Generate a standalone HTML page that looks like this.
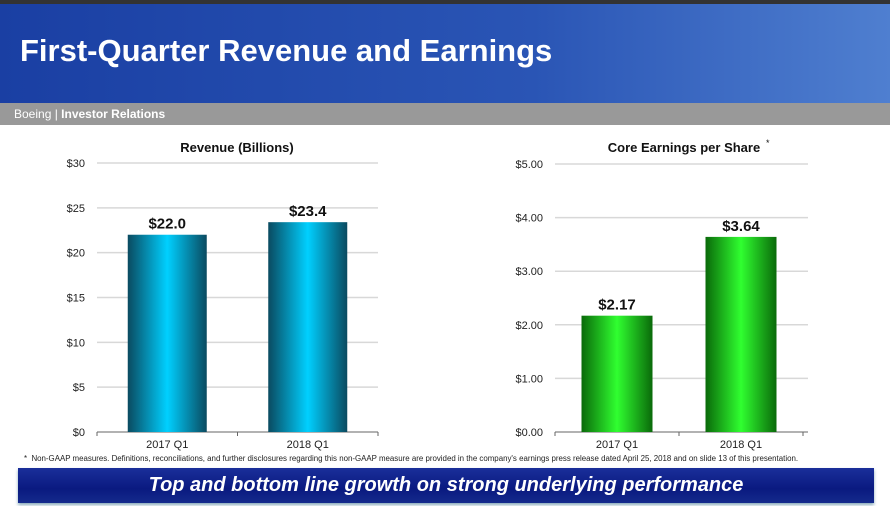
<!DOCTYPE html>
<html><head><meta charset="utf-8"><style>
body{margin:0;width:890px;height:506px;overflow:hidden;background:#fff;font-family:"Liberation Sans",sans-serif;position:relative}
#hdr{position:absolute;left:0;top:0;width:890px;height:103px;background:linear-gradient(90deg,#1a3fa3 0%,#2a55b5 60%,#4f7fd0 100%);border-top:4px solid #333;box-sizing:border-box}
#hdr h1{margin:0;position:absolute;left:20px;top:29px;color:#fff;font-size:31px;font-weight:bold}
#sub{position:absolute;left:0;top:103px;width:890px;height:22px;background:#999;color:#fff;font-size:12px;line-height:22px;padding-left:14px;box-sizing:border-box}
#note{position:absolute;left:24px;top:454px;font-size:7.9px;color:#222;white-space:nowrap}
#banner{position:absolute;left:18px;top:468px;width:856px;height:35px;background:linear-gradient(180deg,#1a2f9a,#0a1a80 60%,#142a8c);color:#fff;font-size:20px;font-weight:bold;font-style:italic;text-align:center;line-height:35px;box-shadow:0 2px 3px #8ab}
</style></head><body>
<div id="hdr"><h1>First-Quarter Revenue and Earnings</h1></div>
<div id="sub">Boeing | <b>Investor Relations</b></div>
<svg id="c" width="890" height="506" style="position:absolute;left:0;top:0">
<defs>
<linearGradient id="gb" x1="0" x2="1"><stop offset="0" stop-color="#0a4a60"/><stop offset="0.5" stop-color="#00d0ff"/><stop offset="1" stop-color="#0a4a60"/></linearGradient>
<linearGradient id="gg" x1="0" x2="1"><stop offset="0" stop-color="#0a6a0a"/><stop offset="0.5" stop-color="#30ff30"/><stop offset="1" stop-color="#0a6a0a"/></linearGradient>
</defs>
</svg>
<div id="note">* &nbsp;Non-GAAP measures. Definitions, reconciliations, and further disclosures regarding this non-GAAP measure are provided in the company's earnings press release dated April 25, 2018 and on slide 13 of this presentation.</div>
<div id="banner">Top and bottom line growth on strong underlying performance</div>
<script>
const categories=["2017 Q1","2018 Q1"];
const revenueValues=[22.0,23.4];
const revenueLabels=["$22.0","$23.4"];
const revenueTicks=[0,5,10,15,20,25,30];
const epsValues=[2.17,3.64];
const epsLabels=["$2.17","$3.64"];
const epsTicks=[0,1,2,3,4,5];
const NS="http://www.w3.org/2000/svg";
const svg=document.getElementById('c');
function el(t,a,txt){const e=document.createElementNS(NS,t);for(const k in a)e.setAttribute(k,a[k]);if(txt!==undefined)e.textContent=txt;svg.appendChild(e);return e;}
function chart(o){
  const y=v=>o.y0-(v/o.max)*(o.y0-o.y1);
  o.ticks.forEach(t=>{
    if(t>0){const g=el('line',{x1:o.x0,x2:o.x1,y1:y(t),y2:y(t),stroke:'#d8d8d8','stroke-width':1.5});
    
    }
    const l=el('text',{x:o.x0-12,y:y(t)+4,'text-anchor':'end','font-size':11,fill:'#222'},o.fmt(t));
    
    
  });
  const ax=el('line',{x1:o.x0,x2:o.x1,y1:o.y0,y2:o.y0,stroke:'#666','stroke-width':1});
  
  
  const n=categories.length,band=(o.bx1-o.x0)/n;
  for(let i=0;i<=n;i++){el('line',{x1:o.x0+band*i,x2:o.x0+band*i,y1:o.y0,y2:o.y0+4,stroke:'#666'});}
  categories.forEach((c,i)=>{
    const cx=o.x0+band*(i+0.5),v=o.vals[i];
    const b=el('rect',{x:cx-o.bw/2,y:y(v),width:o.bw,height:o.y0-y(v),fill:o.fill});
    
    
    const vl=el('text',{x:cx,y:y(v)-6,'text-anchor':'middle','font-size':15,'font-weight':'bold',fill:'#111'},o.labels[i]);
    
    
    const cl=el('text',{x:cx,y:o.y0+16,'text-anchor':'middle','font-size':11,fill:'#222'},c);
    
    
  });
  const t=el('text',{x:o.tx,y:152,'text-anchor':'middle','font-size':13,'font-weight':'bold',fill:'#111'},o.title);
  
  
}
chart({id:'revenue',x0:97,x1:378,bx1:378,y0:432,y1:163,max:30,ticks:revenueTicks,vals:revenueValues,labels:revenueLabels,fmt:t=>'$'+t,bw:79,fill:'url(#gb)',title:'Revenue (Billions)',tx:237});
chart({id:'eps',x0:555,x1:808,bx1:803,y0:432,y1:164,max:5,ticks:epsTicks,vals:epsValues,labels:epsLabels,fmt:t=>'$'+t.toFixed(2),bw:71,fill:'url(#gg)',title:'Core Earnings per Share',tx:684});
const st=el('text',{x:766,y:146,'font-size':9,fill:'#111'},'*');


</script>
</body></html>
